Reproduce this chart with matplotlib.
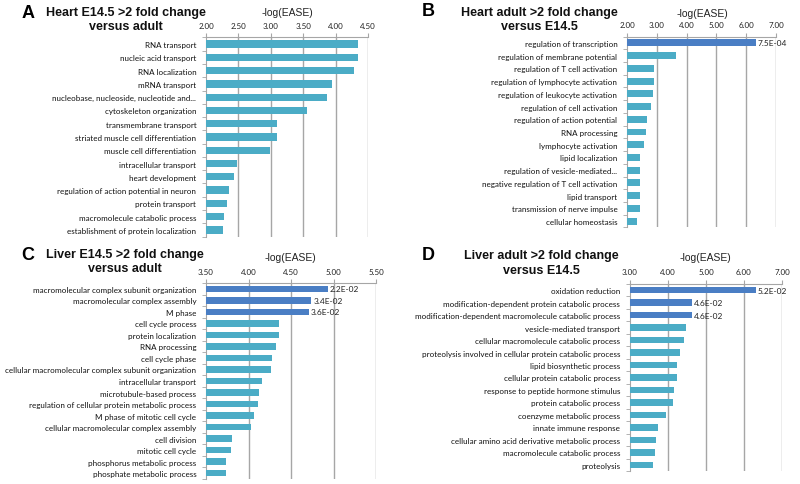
import matplotlib.pyplot as plt
import numpy as np

W, H = 800, 485

# panel A
a_terms = ["RNA transport", "nucleic acid transport", "RNA localization", "mRNA transport",
           "nucleobase, nucleoside, nucleotide and...", "cytoskeleton organization",
           "transmembrane transport", "striated muscle cell differentiation",
           "muscle cell differentiation", "intracellular transport", "heart development",
           "regulation of action potential in neuron", "protein transport",
           "macromolecule catabolic process", "establishment of protein localization"]
a_vals = [4.35, 4.35, 4.29, 3.94, 3.86, 3.56, 3.10, 3.10, 2.98, 2.48, 2.43, 2.36, 2.32, 2.28, 2.26]
a_notes = []

# panel B
b_terms = ["regulation of transcription", "regulation of membrane potential",
           "regulation of T cell activation", "regulation of lymphocyte activation",
           "regulation of leukocyte activation", "regulation of cell activation",
           "regulation of action potential", "RNA processing", "lymphocyte activation",
           "lipid localization", "regulation of vesicle-mediated...",
           "negative regulation of T cell activation", "lipid transport",
           "transmission of nerve impulse", "cellular homeostasis"]
b_vals = [6.33, 3.63, 2.90, 2.90, 2.87, 2.79, 2.67, 2.63, 2.57, 2.43, 2.43, 2.43, 2.43, 2.43, 2.35]
b_notes = ["7.5E-04"]

# panel C
c_terms = ["macromolecular complex subunit organization", "macromolecular complex assembly",
           "M phase", "cell cycle process", "protein localization", "RNA processing",
           "cell cycle phase", "cellular macromolecular complex subunit organization",
           "intracellular transport", "microtubule-based process",
           "regulation of cellular protein metabolic process", "M phase of mitotic cell cycle",
           "cellular macromolecular complex assembly", "cell division", "mitotic cell cycle",
           "phosphorus metabolic process", "phosphate metabolic process"]
c_vals = [4.93, 4.74, 4.71, 4.36, 4.36, 4.32, 4.28, 4.26, 4.16, 4.12, 4.11, 4.06, 4.03,
          3.81, 3.79, 3.73, 3.73]
c_notes = ["2.2E-02", "3.4E-02", "3.6E-02"]

# panel D
d_terms = ["oxidation reduction", "modification-dependent protein catabolic process",
           "modification-dependent macromolecule catabolic process",
           "vesicle-mediated transport", "cellular macromolecule catabolic process",
           "proteolysis involved in cellular protein catabolic process",
           "lipid biosynthetic process", "cellular protein catabolic process",
           "response to peptide hormone stimulus", "protein catabolic process",
           "coenzyme metabolic process", "innate immune response",
           "cellular amino acid derivative metabolic process",
           "macromolecule catabolic process", "proteolysis"]
d_vals = [6.31, 4.63, 4.63, 4.48, 4.42, 4.32, 4.23, 4.23, 4.15, 4.14, 3.95, 3.74, 3.68, 3.67, 3.60]
d_notes = ["5.2E-02", "4.6E-02", "4.6E-02"]

DARK = "#4a7ec4"
LIGHT = "#4bacc6"
GRID = "#a6a6a6"
LABEL_FONT = ["Lato", "DejaVu Sans"]
TITLE_FONT = ["Liberation Sans", "DejaVu Sans"]

fig = plt.figure(figsize=(W / 100, H / 100), dpi=100, facecolor="white")


def px_axes(x0, x1, y0, y1):
    # pixel box (y from top) -> figure fraction
    return fig.add_axes([x0 / W, 1 - y1 / H, (x1 - x0) / W, (y1 - y0) / H])


def ftext(x, y, s, **kw):
    fig.text(x / W, 1 - y / H, s, ha="center", va="center", **kw)


def panel(box, terms, vals, notes, xlim, step, letter, title, letter_xy, title_xy, elabel_xy):
    ax = px_axes(*box)
    n = len(terms)
    y = np.arange(n)
    colors = [DARK if i < len(notes) else LIGHT for i in range(n)]
    ax.barh(y, np.array(vals) - xlim[0], left=xlim[0], height=0.55, color=colors, zorder=3)
    ax.set_xlim(*xlim)
    ax.set_ylim(n - 0.5, -0.5)
    ticks = np.arange(xlim[0], xlim[1] + 1e-6, step)
    ax.set_xticks(ticks)
    ax.set_xticklabels([f"{t:.2f}" for t in ticks], fontsize=5.8, color="#222222",
                       family=LABEL_FONT)
    ax.xaxis.tick_top()
    ax.tick_params(axis="x", length=3, color=GRID, pad=3)
    for t in ticks[1:]:
        ax.axvline(t, color=GRID, lw=1.0, zorder=1)
    ax.set_yticks(np.arange(n + 1) - 0.5, minor=True)
    ax.set_yticks(y)
    ax.set_yticklabels(terms, fontsize=5.8, color="#111111", family=LABEL_FONT)
    ax.tick_params(axis="y", which="major", length=0, pad=7)
    ax.tick_params(axis="y", which="minor", length=3, color=GRID)
    for s in ["right", "bottom"]:
        ax.spines[s].set_visible(False)
    ax.spines["left"].set_color(GRID)
    ax.spines["top"].set_color(GRID)
    for i, txt in enumerate(notes):
        ax.text(vals[i] + (xlim[1] - xlim[0]) * 0.012, i, txt, va="center", ha="left",
                fontsize=6, color="#222222", family=LABEL_FONT, zorder=4)
    ftext(letter_xy[0], letter_xy[1], letter, fontsize=13, fontweight="bold", family=TITLE_FONT)
    line1, line2 = title.split("\n")
    ftext(title_xy[0], title_xy[1] - 7, line1, fontsize=9, fontweight="bold",
          family=TITLE_FONT, color="#111111")
    ftext(title_xy[0], title_xy[1] + 7.5, line2, fontsize=9, fontweight="bold",
          family=TITLE_FONT, color="#111111")
    ftext(elabel_xy[0], elabel_xy[1], "-log(EASE)", fontsize=7.5, family=TITLE_FONT,
          color="#222222")
    return ax


panel((206, 368, 38.4, 237.6), a_terms, a_vals, a_notes, (2.0, 4.5), 0.5, "A",
      "Heart E14.5 >2 fold change\nversus adult", (28, 13), (126, 20), (287, 13))
panel((627, 776, 37.6, 228.4), b_terms, b_vals, b_notes, (2.0, 7.0), 1.0, "B",
      "Heart adult >2 fold change\nversus E14.5", (428, 12), (539, 20), (702, 14))
panel((206, 376, 284.2, 479.8), c_terms, c_vals, c_notes, (3.5, 5.5), 0.5, "C",
      "Liver E14.5 >2 fold change\nversus adult", (28, 256), (125, 262), (290, 258))
panel((630, 782, 284.8, 472.2), d_terms, d_vals, d_notes, (3.0, 7.0), 1.0, "D",
      "Liver adult >2 fold change\nversus E14.5", (428, 256), (541, 263), (705, 258))

fig.savefig("out.png", dpi=100, facecolor="white")
